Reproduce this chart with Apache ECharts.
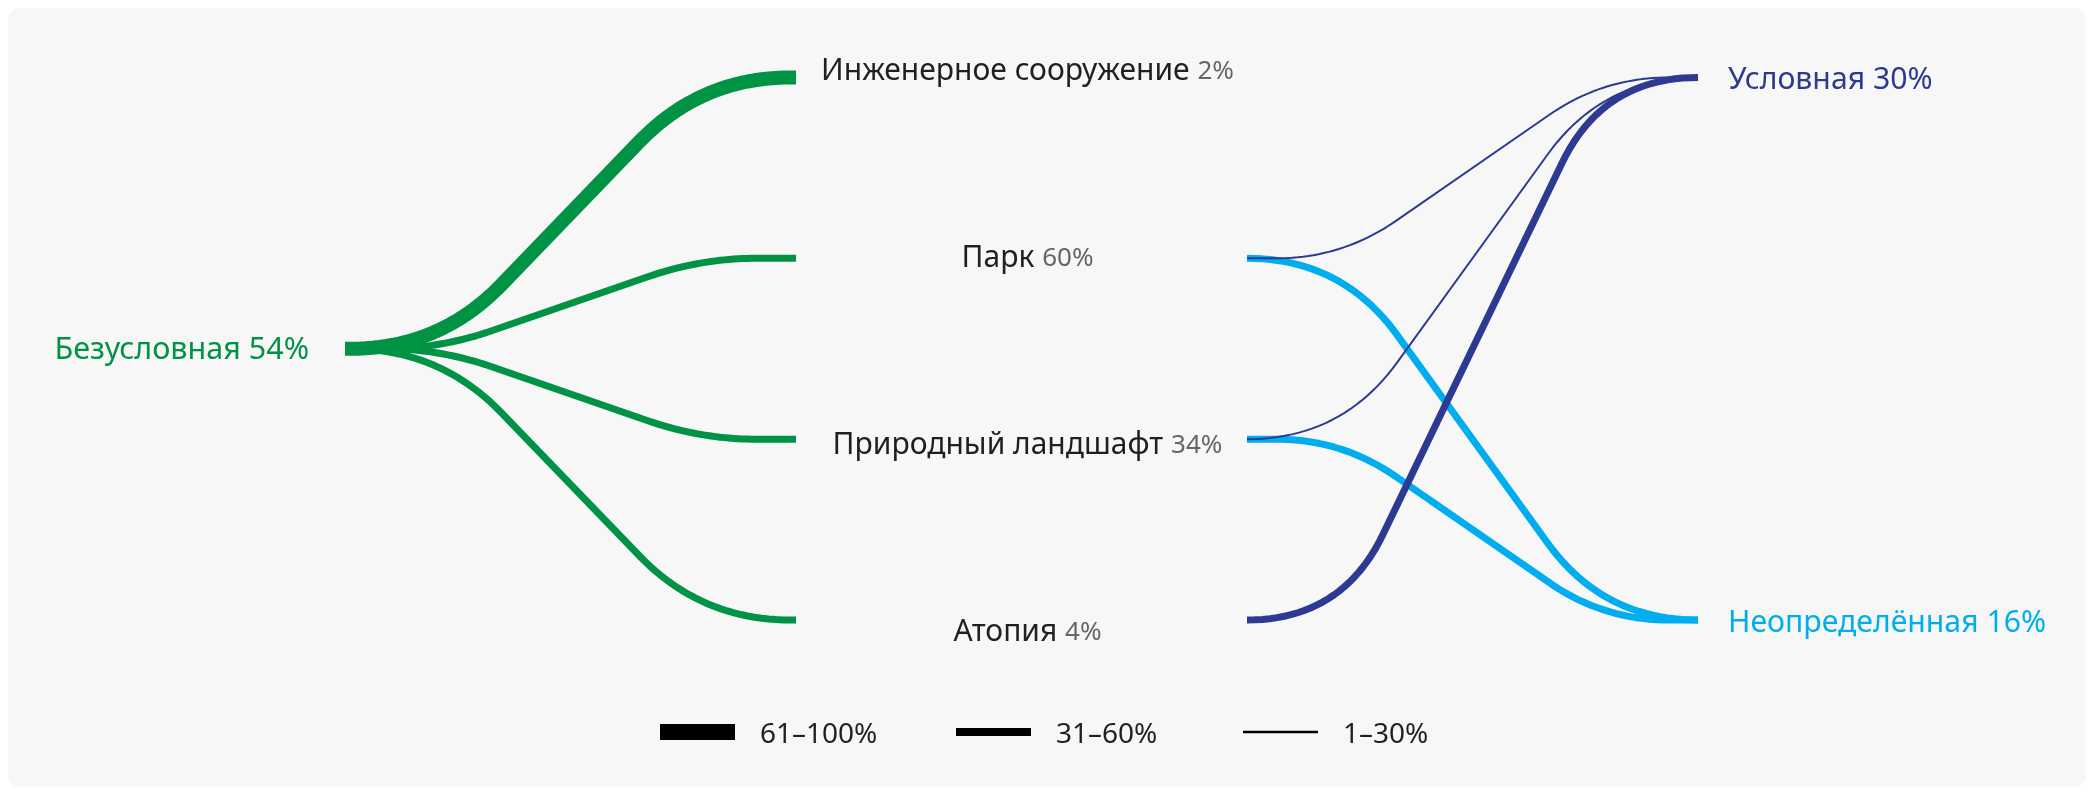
<!DOCTYPE html>
<html>
<head>
<meta charset="utf-8">
<script src="https://cdn.jsdelivr.net/npm/echarts@6/dist/echarts.min.js"></script>
<style>
  html, body { margin: 0; padding: 0; background: #ffffff; }
  #chart { width: 2092px; height: 792px; }
</style>
</head>
<body>
<div id="chart"></div>
<script>
// ---------- DATA ----------
const sourceNames = ['Безусловная'];
const sourceShares = [54];
const typeNames = ['Инженерное сооружение', 'Парк', 'Природный ландшафт', 'Атопия'];
const typeShares = [2, 60, 34, 4];
const outcomeNames = ['Условная', 'Неопределённая'];
const outcomeShares = [30, 16];
const bandLabels = ['61–100%', '31–60%', '1–30%'];
// [source, target, band index]
const sourceToType = [
  ['Безусловная', 'Инженерное сооружение', 0],
  ['Безусловная', 'Парк', 1],
  ['Безусловная', 'Природный ландшафт', 1],
  ['Безусловная', 'Атопия', 1]
];
const typeToOutcome = [
  ['Парк', 'Неопределённая', 1],
  ['Природный ландшафт', 'Неопределённая', 1],
  ['Парк', 'Условная', 2],
  ['Природный ландшафт', 'Условная', 2],
  ['Атопия', 'Условная', 1]
];

// ---------- STYLE ----------
const FONT = 'Noto Sans';
const GREEN = '#009245';
const NAVY = '#2e3a91';
const CYAN = '#00aeef';
const DARK = '#231f20';
const GREY = '#666666';
const outcomeColors = [NAVY, CYAN];
const bandWidths = [14, 7, 2];
const legendBarHeights = [16, 8, 2.5];
const CORNER_FRAC = 0.21;   // where the straight diagonal meets the horizontal legs
const CORNER_R = 210;       // rounding radius (px)
const CORNER_TMIN = 55;

// stage columns: 0 = source, 1 = type (in), 2 = type (out), 3 = outcome
const nT = typeNames.length;
const rowOfType = n => typeNames.indexOf(n);
const rowOfOutcome = n => outcomeNames.indexOf(n) * (nT - 1) / (outcomeNames.length - 1);
const rowOfSource = () => (nT - 1) / 2;

const linkData = [];
sourceToType.forEach(l => {
  linkData.push([0, rowOfSource(l[0]), 1, rowOfType(l[1]), l[2], -1]);
});
typeToOutcome.forEach(l => {
  linkData.push([2, rowOfType(l[0]), 3, rowOfOutcome(l[1]), l[2], outcomeNames.indexOf(l[1])]);
});

function quad(a, c, b, pts) {
  const n = 24;
  for (let i = 0; i <= n; i++) {
    const t = i / n, m = 1 - t;
    pts.push([m * m * a[0] + 2 * m * t * c[0] + t * t * b[0], m * m * a[1] + 2 * m * t * c[1] + t * t * b[1]]);
  }
}

function linkPoints(p0, p1) {
  const W = p1[0] - p0[0];
  if (Math.abs(p1[1] - p0[1]) < 0.5) return [p0, p1];
  const c1 = [p0[0] + CORNER_FRAC * W, p0[1]];
  const c2 = [p1[0] - CORNER_FRAC * W, p1[1]];
  const dx = c2[0] - c1[0], dy = c2[1] - c1[1];
  const L = Math.sqrt(dx * dx + dy * dy);
  const ux = dx / L, uy = dy / L;
  const cos = ux;
  const tanHalf = Math.sqrt((1 - cos) / (1 + cos));
  let t = Math.max(CORNER_R * tanHalf, CORNER_TMIN);
  t = Math.min(t, CORNER_FRAC * W, L / 2);
  const A1 = [c1[0] - t, c1[1]];
  const B1 = [c1[0] + ux * t, c1[1] + uy * t];
  const A2 = [c2[0] - ux * t, c2[1] - uy * t];
  const B2 = [c2[0] + t, c2[1]];
  const pts = [p0];
  quad(A1, c1, B1, pts);
  quad(A2, c2, B2, pts);
  pts.push(p1);
  return pts;
}

function renderLink(params, api) {
  const p0 = api.coord([api.value(0), api.value(1)]);
  const p1 = api.coord([api.value(2), api.value(3)]);
  const band = api.value(4);
  const grp = api.value(5);
  return {
    type: 'polyline',
    shape: { points: linkPoints(p0, p1) },
    style: {
      stroke: grp < 0 ? GREEN : outcomeColors[grp],
      lineWidth: bandWidths[band],
      fill: null,
      lineCap: 'butt',
      lineJoin: 'round'
    }
  };
}

const chart = echarts.init(document.getElementById('chart'), null, { renderer: 'canvas' });

const legendX = [660, 956, 1243];
const legendGraphics = [];
bandLabels.forEach((lab, i) => {
  const h = legendBarHeights[i];
  legendGraphics.push({
    type: 'rect', shape: { x: legendX[i], y: 732 - h / 2, width: 75, height: h },
    style: { fill: '#000000' }
  });
  legendGraphics.push({
    type: 'text', x: legendX[i] + 100, y: 735,
    style: { text: lab, fill: DARK, font: '28px "' + FONT + '"', verticalAlign: 'middle', align: 'left' }
  });
});

const option = {
  animation: false,
  backgroundColor: '#ffffff',
  graphic: [
    { type: 'rect', z: -10, shape: { x: 8, y: 8, width: 2078, height: 779, r: 12 }, style: { fill: '#f7f7f7' } }
  ].concat(legendGraphics),
  grid: { left: 345, top: 77.5, width: 1353, height: 542.5, containLabel: false },
  xAxis: { type: 'value', min: 0, max: 3, show: false },
  yAxis: { type: 'value', min: 0, max: 3, inverse: true, show: false },
  series: [
    {
      type: 'custom',
      renderItem: renderLink,
      data: linkData,
      encode: { x: [0, 2], y: [1, 3] },
      silent: true,
      z: 2
    },
    {
      type: 'scatter',
      symbolSize: 0,
      silent: true,
      z: 5,
      itemStyle: { opacity: 1 },
      data: sourceNames.map((n, i) => ({ value: [0, rowOfSource(n)], name: n, share: sourceShares[i] })),
      label: {
        show: true, position: 'left', distance: 36, offset: [0, 2],
        color: GREEN, fontFamily: FONT, fontSize: 30.5,
        formatter: p => p.name + ' ' + p.data.share + '%'
      }
    },
    {
      type: 'scatter',
      symbolSize: 0,
      silent: true,
      z: 5,
      itemStyle: { opacity: 1 },
      data: outcomeNames.map((n, i) => ({
        value: [3, rowOfOutcome(n)], name: n, share: outcomeShares[i],
        label: { color: outcomeColors[i] }
      })),
      label: {
        show: true, position: 'right', distance: 30, offset: [0, 3],
        fontFamily: FONT, fontSize: 30.2,
        formatter: p => p.name + ' ' + p.data.share + '%'
      }
    },
    {
      type: 'scatter',
      symbolSize: 0,
      silent: true,
      z: 5,
      itemStyle: { opacity: 1 },
      data: typeNames.map((n, i) => ({
        value: [1.5, i], name: n, share: typeShares[i],
        label: { offset: [6, (i - 1.5) * 6.2 + 3] }
      })),
      label: {
        show: true, position: 'inside',
        formatter: p => '{n|' + p.name + ' }{p|' + p.data.share + '%}',
        rich: {
          n: { fontFamily: FONT, fontSize: 30, color: DARK },
          p: { fontFamily: FONT, fontSize: 26, color: GREY }
        }
      }
    }
  ]
};
chart.setOption(option);
</script>
</body>
</html>
